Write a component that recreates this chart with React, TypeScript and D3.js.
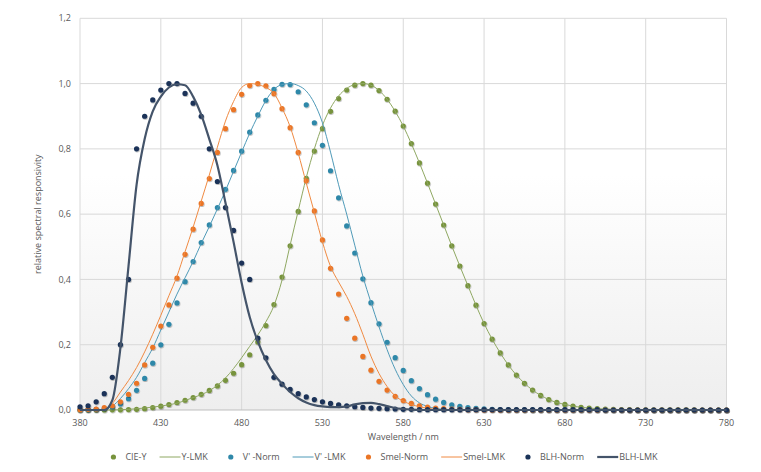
import { useEffect, useRef } from 'react';
import * as d3 from 'd3';

// wavelength grid (nm), 5 nm steps
const wavelengths = [
  380, 385, 390, 395, 400, 405, 410, 415, 420, 425,
  430, 435, 440, 445, 450, 455, 460, 465, 470, 475,
  480, 485, 490, 495, 500, 505, 510, 515, 520, 525,
  530, 535, 540, 545, 550, 555, 560, 565, 570, 575,
  580, 585, 590, 595, 600, 605, 610, 615, 620, 625,
  630, 635, 640, 645, 650, 655, 660, 665, 670, 675,
  680, 685, 690, 695, 700, 705, 710, 715, 720, 725,
  730, 735, 740, 745, 750, 755, 760, 765, 770, 775,
  780
];

const cieY = [
  0, 0.0001, 0.0001, 0.0002, 0.0004, 0.0006, 0.0012, 0.0022, 0.004, 0.0073,
  0.0116, 0.0168, 0.023, 0.0298, 0.038, 0.048, 0.06, 0.0739, 0.091, 0.1126,
  0.139, 0.1693, 0.208, 0.2586, 0.323, 0.4073, 0.503, 0.6082, 0.71, 0.7932,
  0.862, 0.9149, 0.954, 0.9803, 0.995, 1.0, 0.995, 0.9786, 0.952, 0.9154,
  0.87, 0.8163, 0.757, 0.6949, 0.631, 0.5668, 0.503, 0.4412, 0.381, 0.321,
  0.265, 0.217, 0.175, 0.1382, 0.107, 0.0816, 0.061, 0.0446, 0.032, 0.0232,
  0.017, 0.0119, 0.0082, 0.0057, 0.0041, 0.0029, 0.0021, 0.0015, 0.001, 0.0007,
  0.0005, 0.0004, 0.0002, 0.0002, 0.0001, 0.0001, 0.0001, 0, 0, 0,
  0
];

const yLmk = [
  0, 0, 0, 0, 0, 0.001, 0.002, 0.004, 0.006, 0.009,
  0.012, 0.016, 0.021, 0.029, 0.038, 0.047, 0.059, 0.076, 0.098, 0.127,
  0.16, 0.195, 0.23, 0.27, 0.32, 0.398, 0.505, 0.61, 0.712, 0.8,
  0.872, 0.925, 0.962, 0.985, 0.997, 1.0, 0.995, 0.979, 0.952, 0.915,
  0.87, 0.816, 0.757, 0.695, 0.631, 0.567, 0.503, 0.441, 0.381, 0.321,
  0.265, 0.217, 0.175, 0.138, 0.107, 0.082, 0.061, 0.045, 0.032, 0.023,
  0.017, 0.012, 0.008, 0.006, 0.004, 0.003, 0.002, 0.001, 0.001, 0,
  0, 0, 0, 0, 0, 0, 0, 0, 0, 0,
  0
];

const vPrimeNorm = [
  0.0006, 0.0011, 0.0022, 0.0045, 0.0093, 0.0185, 0.0348, 0.0604, 0.0966, 0.1436,
  0.1998, 0.2625, 0.3281, 0.3931, 0.455, 0.513, 0.567, 0.62, 0.676, 0.734,
  0.793, 0.851, 0.904, 0.949, 0.982, 0.998, 0.997, 0.975, 0.935, 0.88,
  0.811, 0.733, 0.65, 0.564, 0.481, 0.402, 0.3288, 0.2639, 0.2076, 0.1602,
  0.1212, 0.0899, 0.0655, 0.0469, 0.0332, 0.0231, 0.0159, 0.0109, 0.0074, 0.005,
  0.0033, 0.0022, 0.0015, 0.001, 0.0007, 0.0005, 0.0003, 0.0002, 0.0001, 0.0001,
  0.0001, 0, 0, 0, 0, 0, 0, 0, 0, 0,
  0, 0, 0, 0, 0, 0, 0, 0, 0, 0,
  0
];

const vPrimeLmk = [
  0, 0, 0, 0.003, 0.012, 0.035, 0.065, 0.1, 0.145, 0.19,
  0.245, 0.3, 0.355, 0.405, 0.455, 0.51, 0.562, 0.616, 0.672, 0.731,
  0.79, 0.848, 0.9, 0.948, 0.982, 0.997, 1.0, 0.994, 0.977, 0.94,
  0.88, 0.79, 0.69, 0.6, 0.505, 0.41, 0.33, 0.255, 0.185, 0.125,
  0.078, 0.043, 0.022, 0.011, 0.005, 0.002, 0.001, 0, 0, 0,
  0, 0, 0, 0, 0, 0, 0, 0, 0, 0,
  0, 0, 0, 0, 0, 0, 0, 0, 0, 0,
  0, 0, 0, 0, 0, 0, 0, 0, 0, 0,
  0
];

const smelNorm = [
  0.001, 0.002, 0.003, 0.007, 0.013, 0.025, 0.048, 0.082, 0.138, 0.192,
  0.257, 0.322, 0.404, 0.477, 0.554, 0.633, 0.709, 0.789, 0.862, 0.92,
  0.967, 0.994, 1.0, 0.993, 0.969, 0.923, 0.865, 0.789, 0.702, 0.61,
  0.521, 0.434, 0.355, 0.281, 0.22, 0.164, 0.122, 0.088, 0.061, 0.042,
  0.029, 0.02, 0.013, 0.009, 0.006, 0.004, 0.003, 0.002, 0.001, 0.001,
  0, 0, 0, 0, 0, 0, 0, 0, 0, 0,
  0, 0, 0, 0, 0, 0, 0, 0, 0, 0,
  0, 0, 0, 0, 0, 0, 0, 0, 0, 0,
  0
];

const smelLmk = [
  0, 0, 0, 0.003, 0.02, 0.055, 0.09, 0.13, 0.178, 0.232,
  0.29, 0.35, 0.41, 0.485, 0.56, 0.64, 0.72, 0.805, 0.885, 0.945,
  0.988, 1.0, 0.997, 0.988, 0.97, 0.925, 0.868, 0.787, 0.695, 0.605,
  0.515, 0.44, 0.392, 0.348, 0.295, 0.232, 0.165, 0.112, 0.072, 0.043,
  0.027, 0.017, 0.01, 0.005, 0.002, 0.001, 0, 0, 0, 0,
  0, 0, 0, 0, 0, 0, 0, 0, 0, 0,
  0, 0, 0, 0, 0, 0, 0, 0, 0, 0,
  0, 0, 0, 0, 0, 0, 0, 0, 0, 0,
  0
];

const blhNorm = [
  0.01, 0.013, 0.025, 0.05, 0.1, 0.2, 0.4, 0.8, 0.9, 0.95,
  0.98, 1.0, 1.0, 0.97, 0.94, 0.9, 0.8, 0.7, 0.62, 0.55,
  0.45, 0.4, 0.22, 0.16, 0.1, 0.079, 0.063, 0.05, 0.04, 0.032,
  0.025, 0.02, 0.016, 0.013, 0.01, 0.008, 0.006, 0.005, 0.004, 0.003,
  0.002, 0.002, 0.001, 0.001, 0.001, 0.001, 0.001, 0.001, 0.001, 0.001,
  0.001, 0.001, 0.001, 0.001, 0.001, 0.001, 0.001, 0.001, 0.001, 0.001,
  0.001, 0.001, 0.001, 0.001, 0.001, 0, 0, 0, 0, 0,
  0, 0, 0, 0, 0, 0, 0, 0, 0, 0,
  0
];

const blhLmk = [
  0, 0, 0, 0, 0.03, 0.19, 0.44, 0.69, 0.83, 0.915,
  0.96, 0.988, 0.998, 0.995, 0.96, 0.905, 0.83, 0.75, 0.635, 0.515,
  0.39, 0.285, 0.21, 0.153, 0.11, 0.08, 0.055, 0.036, 0.023, 0.015,
  0.011, 0.009, 0.009, 0.011, 0.017, 0.021, 0.022, 0.018, 0.012, 0.006,
  0.003, 0.001, 0, 0, 0, 0, 0, 0, 0, 0,
  0, 0, 0, 0, 0, 0, 0, 0, 0, 0,
  0, 0, 0, 0, 0, 0, 0, 0, 0, 0,
  0, 0, 0, 0, 0, 0, 0, 0, 0, 0,
  0
];

const xTicks = [380, 430, 480, 530, 580, 630, 680, 730, 780];
const yTicks = [0, 0.2, 0.4, 0.6, 0.8, 1.0, 1.2];

type Series = {
  name: string;
  values: number[];
  kind: 'dot' | 'line';
  color: string;
  width?: number;
};

const series: Series[] = [
  { name: 'CIE-Y', values: cieY, kind: 'dot', color: '#77933c' },
  { name: 'Y-LMK', values: yLmk, kind: 'line', color: '#8fa862', width: 1 },
  { name: "V' -Norm", values: vPrimeNorm, kind: 'dot', color: '#2f88a9' },
  { name: "V' -LMK", values: vPrimeLmk, kind: 'line', color: '#4f9ab8', width: 1 },
  { name: 'Smel-Norm', values: smelNorm, kind: 'dot', color: '#ea7526' },
  { name: 'Smel-LMK', values: smelLmk, kind: 'line', color: '#f08a42', width: 1 },
  { name: 'BLH-Norm', values: blhNorm, kind: 'dot', color: '#1a3358' },
  { name: 'BLH-LMK', values: blhLmk, kind: 'line', color: '#44546a', width: 2.2 }
];

const WIDTH = 761;
const HEIGHT = 472;
const FONT = '"Open Sans", "Noto Sans", sans-serif';
const TEXT = '#595959';

export default function App() {
  const svgRef = useRef<SVGSVGElement>(null);

  useEffect(() => {
    if (!svgRef.current) return;
    const svg = d3.select(svgRef.current);
    svg.selectAll('*').remove();

    const plot = { left: 80, right: 726.5, top: 18.3, bottom: 410 };

    const x = d3.scaleLinear().domain([380, 780]).range([plot.left, plot.right]);
    const y = d3.scaleLinear().domain([0, 1.2]).range([plot.bottom, plot.top]);

    const defs = svg.append('defs');
    const grad = defs.append('linearGradient')
      .attr('id', 'plotBg')
      .attr('x1', 0).attr('y1', 0).attr('x2', 0).attr('y2', 1);
    grad.append('stop').attr('offset', '0%').attr('stop-color', '#ffffff');
    grad.append('stop').attr('offset', '40%').attr('stop-color', '#ffffff');
    grad.append('stop').attr('offset', '100%').attr('stop-color', '#eeeeee');

    const shadow = defs.append('filter')
      .attr('id', 'dotShadow')
      .attr('x', '-50%').attr('y', '-50%').attr('width', '200%').attr('height', '200%');
    shadow.append('feDropShadow')
      .attr('dx', 0.6).attr('dy', 0.9)
      .attr('stdDeviation', 0.7)
      .attr('flood-color', '#000')
      .attr('flood-opacity', 0.3);

    svg.append('rect')
      .attr('width', WIDTH).attr('height', HEIGHT)
      .attr('fill', '#ffffff');

    svg.append('rect')
      .attr('x', plot.left).attr('y', plot.top)
      .attr('width', plot.right - plot.left)
      .attr('height', plot.bottom - plot.top)
      .attr('fill', 'url(#plotBg)');

    // gridlines
    const grid = svg.append('g');
    grid.selectAll('.vgrid')
      .data(xTicks)
      .enter().append('line')
      .attr('x1', d => x(d)).attr('x2', d => x(d))
      .attr('y1', plot.top).attr('y2', plot.bottom)
      .attr('stroke', '#d9d9d9').attr('stroke-width', 1);
    grid.selectAll('.hgrid')
      .data(yTicks.slice(1))
      .enter().append('line')
      .attr('x1', plot.left).attr('x2', plot.right)
      .attr('y1', d => y(d)).attr('y2', d => y(d))
      .attr('stroke', '#d9d9d9').attr('stroke-width', 1);
    grid.append('line')
      .attr('x1', plot.left).attr('x2', plot.right)
      .attr('y1', y(0)).attr('y2', y(0))
      .attr('stroke', '#bfbfbf').attr('stroke-width', 1);

    // tick labels
    const fmt = (v: number) => d3.format('.1f')(v).replace('.', ',');
    svg.append('g').selectAll('text')
      .data(yTicks)
      .enter().append('text')
      .attr('x', 71).attr('y', d => y(d))
      .attr('dy', '0.35em')
      .attr('text-anchor', 'end')
      .style('font-family', FONT).style('font-size', '9px')
      .attr('fill', TEXT)
      .text(d => fmt(d));

    svg.append('g').selectAll('text')
      .data(xTicks)
      .enter().append('text')
      .attr('x', d => x(d)).attr('y', 423)
      .attr('dy', '0.35em')
      .attr('text-anchor', 'middle')
      .style('font-family', FONT).style('font-size', '9px')
      .attr('fill', TEXT)
      .text(d => String(d));

    svg.append('text')
      .attr('x', (plot.left + plot.right) / 2).attr('y', 437)
      .attr('dy', '0.35em')
      .attr('text-anchor', 'middle')
      .style('font-family', FONT).style('font-size', '9px')
      .attr('fill', TEXT)
      .text('Wavelength / nm');

    svg.append('text')
      .attr('transform', `translate(38,${(plot.top + plot.bottom) / 2}) rotate(-90)`)
      .attr('dy', '0.35em')
      .attr('text-anchor', 'middle')
      .style('font-family', FONT).style('font-size', '9px')
      .attr('fill', TEXT)
      .text('relative spectral responsivity');

    // series
    const line = d3.line<number>()
      .x((_, i) => x(wavelengths[i]))
      .y(d => y(d))
      .curve(d3.curveMonotoneX);

    series.forEach(s => {
      if (s.kind === 'line') {
        svg.append('path')
          .datum(s.values)
          .attr('d', line)
          .attr('fill', 'none')
          .attr('stroke', s.color)
          .attr('stroke-width', s.width ?? 1)
          .attr('stroke-linejoin', 'round');
      } else {
        svg.append('g')
          .attr('filter', 'url(#dotShadow)')
          .selectAll('circle')
          .data(s.values)
          .enter().append('circle')
          .attr('cx', (_, i) => x(wavelengths[i]))
          .attr('cy', d => y(d))
          .attr('r', 2.6)
          .attr('fill', s.color);
      }
    });

    // legend
    const legend = svg.append('g');
    const legendY = 457;
    const items = series.map(s => {
      const g = legend.append('g');
      const t = g.append('text')
        .attr('x', 22).attr('y', 0)
        .attr('dy', '0.35em')
        .style('font-family', FONT).style('font-size', '9px')
        .attr('fill', TEXT)
        .text(s.name);
      if (s.kind === 'dot') {
        g.append('circle').attr('cx', 10).attr('cy', 0).attr('r', 2.6).attr('fill', s.color);
      } else {
        g.append('line')
          .attr('x1', 0).attr('x2', 21).attr('y1', 0).attr('y2', 0)
          .attr('stroke', s.color).attr('stroke-width', s.width ?? 1);
      }
      const w = 22 + (t.node() as SVGTextElement).getComputedTextLength();
      return { g, w };
    });
    const gap = 13;
    const total = d3.sum(items, d => d.w) + gap * (items.length - 1);
    let cursor = WIDTH / 2 - total / 2;
    items.forEach(it => {
      it.g.attr('transform', `translate(${cursor},${legendY})`);
      cursor += it.w + gap;
    });
  }, []);

  return (
    <svg
      ref={svgRef}
      width={WIDTH}
      height={HEIGHT}
      style={{ position: 'absolute', left: 0, top: 0, display: 'block' }}
    />
  );
}
